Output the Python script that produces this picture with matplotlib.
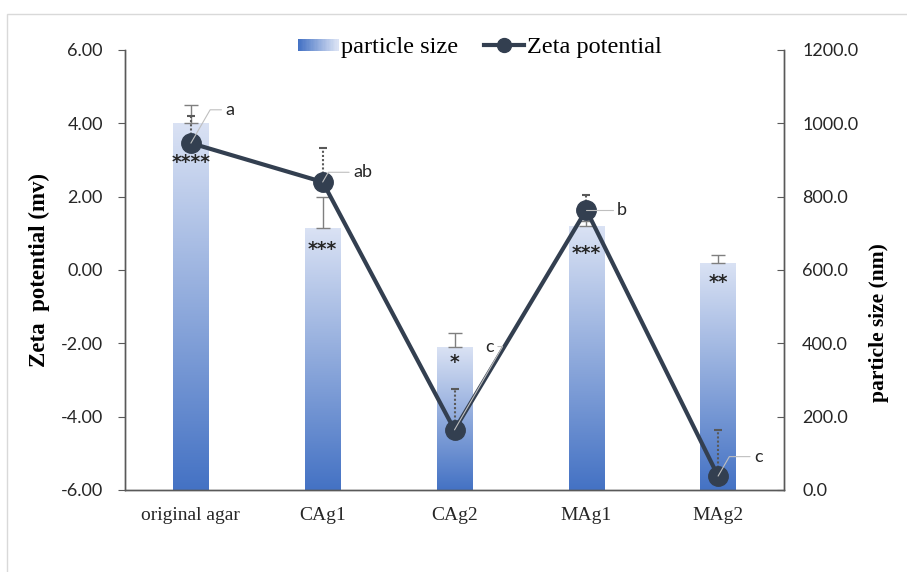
import numpy as np
import matplotlib
matplotlib.use('Agg')
import matplotlib.pyplot as plt
from matplotlib.colors import LinearSegmentedColormap
from matplotlib.patches import Rectangle
from matplotlib.legend_handler import HandlerBase
from matplotlib.lines import Line2D

# data
categories = ['original agar', 'CAg1', 'CAg2', 'MAg1', 'MAg2']
particle_size = [1000, 714, 390, 720, 620]
size_err = [50, 85, 38, 15, 22]
zeta = [3.46, 2.40, -4.36, 1.64, -5.62]
zeta_err = [0.74, 0.93, 1.12, 0.40, 1.25]
size_stars = ['****', '***', '*', '***', '**']
zeta_letters = ['a', 'ab', 'c', 'b', 'c']

# label placement (offsets in points)
star_offsets = [-28, -15, -11, -20, -14]
letter_offsets = [(25, 24), (22, 7), (22, 60), (22, 0), (26, 14)]

DARK = '#333f50'
cmap = LinearSegmentedColormap.from_list('bar', ['#4472c4', '#dae2f4'])
serif = ['Liberation Serif', 'DejaVu Serif']
sans = ['Lato', 'DejaVu Sans']


class GradientHandler(HandlerBase):
    def create_artists(self, legend, orig_handle, xdescent, ydescent,
                       width, height, fontsize, trans):
        n = 30
        parts = []
        for k in range(n):
            r = Rectangle((-xdescent + k * width / n, -ydescent + height * 0.1),
                          width / n + 0.3, height * 0.75,
                          facecolor=cmap(k / (n - 1)), lw=0, transform=trans)
            parts.append(r)
        return parts


fig = plt.figure(figsize=(9.07, 5.72), dpi=100)
fig.patches.append(Rectangle((7 / 907, -0.1), 1.2, 1 - 14 / 572 + 0.1,
                             transform=fig.transFigure, fill=False,
                             edgecolor='#d9d9d9', lw=1))
ax = fig.add_axes([125 / 907, 1 - 490 / 572, 659 / 907, 440 / 572])
ax2 = ax.twinx()
ax.set_zorder(ax2.get_zorder() + 1)
ax.patch.set_visible(False)

x = np.arange(len(categories))

# particle size bars with vertical gradient
bars = ax2.bar(x, particle_size, width=0.27, facecolor='none', edgecolor='none')
grad = np.linspace(0, 1, 256).reshape(-1, 1)
for bar in bars:
    x0, w, h = bar.get_x(), bar.get_width(), bar.get_height()
    im = ax2.imshow(grad, extent=[x0, x0 + w, 0, h], origin='lower', cmap=cmap,
                    aspect='auto', zorder=1)
    im.set_clip_path(bar)
ax2.errorbar(x, particle_size, yerr=[[0] * len(x), size_err], fmt='none',
             ecolor='#7f7f7f', elinewidth=1, capsize=5, capthick=1, zorder=2)
for i, s in enumerate(size_stars):
    ax2.annotate(s, (x[i], particle_size[i]), xytext=(0, star_offsets[i]),
                 textcoords='offset points', ha='center', va='center',
                 fontsize=13.5, fontweight='bold', color='#262626',
                 family='DejaVu Sans')

# zeta potential line
eb = ax.errorbar(x, zeta, yerr=[[0] * len(x), zeta_err], fmt='none',
                 ecolor='#595959', elinewidth=1.5, capsize=3, capthick=1.5, zorder=2)
eb[2][0].set_linestyle((0, (1, 1)))
ax.plot(x, zeta, color=DARK, lw=3, marker='o', markersize=14, zorder=3)
for i, s in enumerate(zeta_letters):
    ax.annotate(s, (x[i], zeta[i]), xytext=letter_offsets[i],
                textcoords='offset points', ha='left', va='center',
                fontsize=13, color='#262626', family=sans,
                arrowprops=dict(arrowstyle='-', color='#bfbfbf', lw=0.8,
                                shrinkA=1, shrinkB=0,
                                connectionstyle='angle,angleA=0,angleB=60,rad=0'))

ax.set_xlim(-0.5, len(categories) - 0.5)
ax2.set_xlim(-0.5, len(categories) - 0.5)
ax.set_ylim(-6, 6)
ax2.set_ylim(0, 1200)
ax.set_yticks(np.arange(-6, 6.1, 2))
ax.set_yticklabels([f'{v:.2f}' for v in np.arange(-6, 6.1, 2)])
ax2.set_yticks(np.arange(0, 1201, 200))
ax2.set_yticklabels([f'{v:.1f}' for v in np.arange(0, 1201, 200)])
ax.set_xticks(x)
ax.set_xticklabels(categories, family=serif, fontsize=14)
ax.tick_params(axis='x', length=0, pad=12, colors='#262626')
ax.tick_params(axis='y', direction='out', length=5, colors='#595959',
               labelcolor='#262626', labelsize=13, pad=11)
ax2.tick_params(axis='y', direction='in', length=5, colors='#595959',
                labelcolor='#262626', labelsize=13, pad=13)
for t in ax.get_yticklabels() + ax2.get_yticklabels():
    t.set_family(sans)

for a in (ax, ax2):
    a.spines['top'].set_visible(False)
    for side in ('left', 'right', 'bottom'):
        a.spines[side].set_color('#595959')
        a.spines[side].set_linewidth(1)

ax.set_ylabel('Zeta  potential (mv)', family=serif, fontsize=16.5,
              fontweight='bold')
ax.yaxis.set_label_coords(-75 / 659, 0.5)
ax2.set_ylabel('particle size (nm)', family=serif, fontsize=15.5,
               fontweight='bold')
ax2.yaxis.set_label_coords(1 + 85 / 659, 0.38)

handles = [Rectangle((0, 0), 1, 1),
           Line2D([], [], color=DARK, lw=3, marker='o', markersize=10)]
fig.legend(handles, ['particle size', 'Zeta potential'],
           handler_map={Rectangle: GradientHandler()},
           loc='center', bbox_to_anchor=(480 / 907, 1 - 47 / 572), ncol=2,
           frameon=False, prop={'family': serif, 'size': 17.5},
           handlelength=1.65, handletextpad=0.12, columnspacing=1.07)

fig.savefig('out.png', dpi=100)
